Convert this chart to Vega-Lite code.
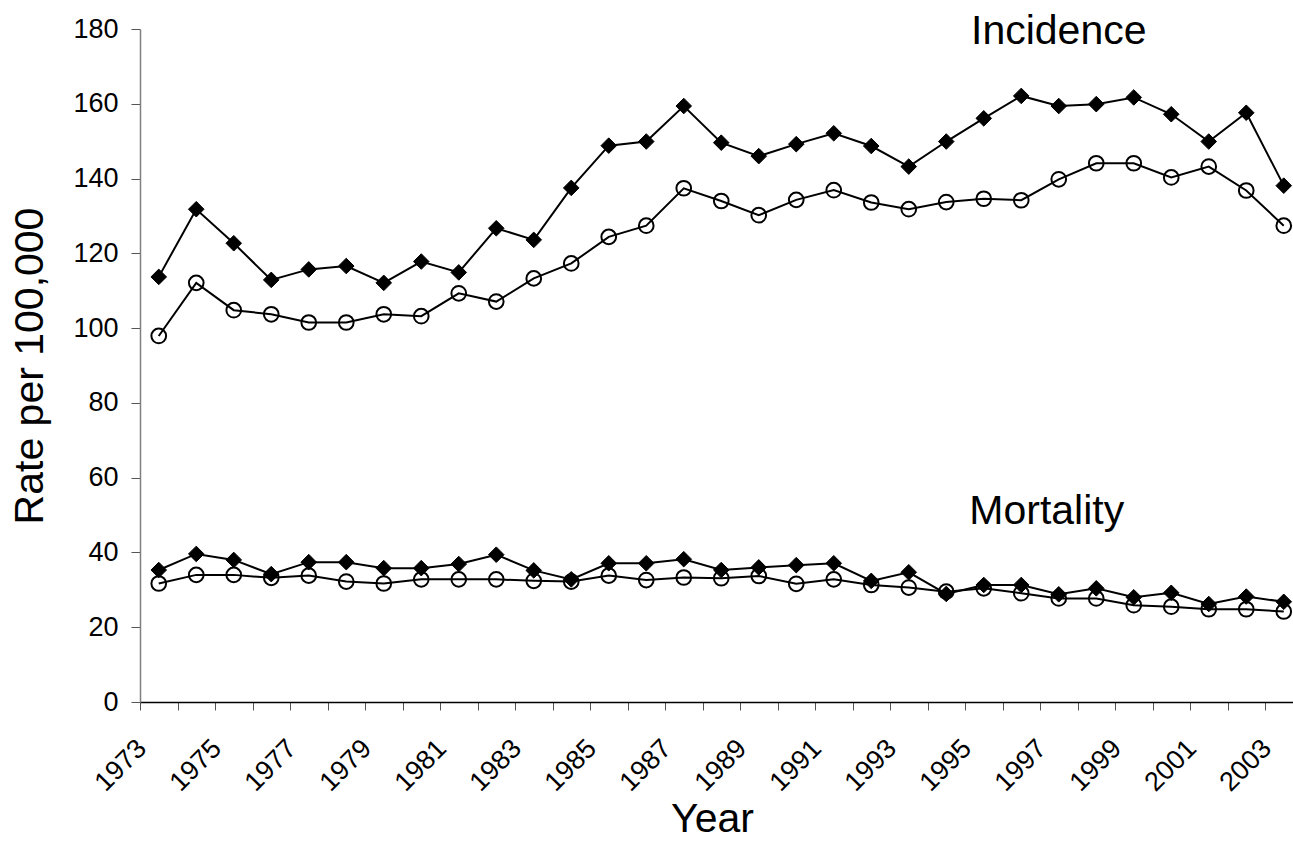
{
  "$schema": "https://vega.github.io/schema/vega-lite/v6.json",
  "width": 1153,
  "height": 673,
  "autosize": {"type": "none"},
  "padding": {"left": 140, "top": 29, "right": 0, "bottom": 144},
  "background": "white",
  "config": {"view": {"stroke": null}, "font": "Liberation Sans", "text": {"font": "Liberation Sans"}},
  "datasets": {
    "rates": [
      {"Year":1973,"Measure":"Incidence","Series":"A","Rate":113.7},{"Year":1974,"Measure":"Incidence","Series":"A","Rate":131.8},{"Year":1975,"Measure":"Incidence","Series":"A","Rate":122.7},{"Year":1976,"Measure":"Incidence","Series":"A","Rate":112.9},{"Year":1977,"Measure":"Incidence","Series":"A","Rate":115.7},{"Year":1978,"Measure":"Incidence","Series":"A","Rate":116.6},{"Year":1979,"Measure":"Incidence","Series":"A","Rate":112.1},{"Year":1980,"Measure":"Incidence","Series":"A","Rate":117.8},{"Year":1981,"Measure":"Incidence","Series":"A","Rate":114.9},{"Year":1982,"Measure":"Incidence","Series":"A","Rate":126.7},{"Year":1983,"Measure":"Incidence","Series":"A","Rate":123.6},{"Year":1984,"Measure":"Incidence","Series":"A","Rate":137.5},{"Year":1985,"Measure":"Incidence","Series":"A","Rate":148.8},{"Year":1986,"Measure":"Incidence","Series":"A","Rate":149.9},{"Year":1987,"Measure":"Incidence","Series":"A","Rate":159.4},{"Year":1988,"Measure":"Incidence","Series":"A","Rate":149.6},{"Year":1989,"Measure":"Incidence","Series":"A","Rate":146.0},{"Year":1990,"Measure":"Incidence","Series":"A","Rate":149.2},{"Year":1991,"Measure":"Incidence","Series":"A","Rate":152.1},{"Year":1992,"Measure":"Incidence","Series":"A","Rate":148.7},{"Year":1993,"Measure":"Incidence","Series":"A","Rate":143.2},{"Year":1994,"Measure":"Incidence","Series":"A","Rate":149.9},{"Year":1995,"Measure":"Incidence","Series":"A","Rate":156.1},{"Year":1996,"Measure":"Incidence","Series":"A","Rate":162.1},{"Year":1997,"Measure":"Incidence","Series":"A","Rate":159.4},{"Year":1998,"Measure":"Incidence","Series":"A","Rate":159.9},{"Year":1999,"Measure":"Incidence","Series":"A","Rate":161.7},{"Year":2000,"Measure":"Incidence","Series":"A","Rate":157.2},{"Year":2001,"Measure":"Incidence","Series":"A","Rate":149.9},{"Year":2002,"Measure":"Incidence","Series":"A","Rate":157.6},{"Year":2003,"Measure":"Incidence","Series":"A","Rate":138.1},
      {"Year":1973,"Measure":"Incidence","Series":"B","Rate":97.9},{"Year":1974,"Measure":"Incidence","Series":"B","Rate":112.1},{"Year":1975,"Measure":"Incidence","Series":"B","Rate":104.8},{"Year":1976,"Measure":"Incidence","Series":"B","Rate":103.7},{"Year":1977,"Measure":"Incidence","Series":"B","Rate":101.5},{"Year":1978,"Measure":"Incidence","Series":"B","Rate":101.5},{"Year":1979,"Measure":"Incidence","Series":"B","Rate":103.7},{"Year":1980,"Measure":"Incidence","Series":"B","Rate":103.2},{"Year":1981,"Measure":"Incidence","Series":"B","Rate":109.3},{"Year":1982,"Measure":"Incidence","Series":"B","Rate":107.1},{"Year":1983,"Measure":"Incidence","Series":"B","Rate":113.3},{"Year":1984,"Measure":"Incidence","Series":"B","Rate":117.3},{"Year":1985,"Measure":"Incidence","Series":"B","Rate":124.4},{"Year":1986,"Measure":"Incidence","Series":"B","Rate":127.4},{"Year":1987,"Measure":"Incidence","Series":"B","Rate":137.4},{"Year":1988,"Measure":"Incidence","Series":"B","Rate":134.0},{"Year":1989,"Measure":"Incidence","Series":"B","Rate":130.2},{"Year":1990,"Measure":"Incidence","Series":"B","Rate":134.3},{"Year":1991,"Measure":"Incidence","Series":"B","Rate":136.9},{"Year":1992,"Measure":"Incidence","Series":"B","Rate":133.6},{"Year":1993,"Measure":"Incidence","Series":"B","Rate":131.8},{"Year":1994,"Measure":"Incidence","Series":"B","Rate":133.7},{"Year":1995,"Measure":"Incidence","Series":"B","Rate":134.6},{"Year":1996,"Measure":"Incidence","Series":"B","Rate":134.2},{"Year":1997,"Measure":"Incidence","Series":"B","Rate":139.8},{"Year":1998,"Measure":"Incidence","Series":"B","Rate":144.1},{"Year":1999,"Measure":"Incidence","Series":"B","Rate":144.1},{"Year":2000,"Measure":"Incidence","Series":"B","Rate":140.3},{"Year":2001,"Measure":"Incidence","Series":"B","Rate":143.2},{"Year":2002,"Measure":"Incidence","Series":"B","Rate":136.8},{"Year":2003,"Measure":"Incidence","Series":"B","Rate":127.4},
      {"Year":1973,"Measure":"Mortality","Series":"A","Rate":35.3},{"Year":1974,"Measure":"Mortality","Series":"A","Rate":39.6},{"Year":1975,"Measure":"Mortality","Series":"A","Rate":38.0},{"Year":1976,"Measure":"Mortality","Series":"A","Rate":34.2},{"Year":1977,"Measure":"Mortality","Series":"A","Rate":37.4},{"Year":1978,"Measure":"Mortality","Series":"A","Rate":37.4},{"Year":1979,"Measure":"Mortality","Series":"A","Rate":35.8},{"Year":1980,"Measure":"Mortality","Series":"A","Rate":35.8},{"Year":1981,"Measure":"Mortality","Series":"A","Rate":36.9},{"Year":1982,"Measure":"Mortality","Series":"A","Rate":39.4},{"Year":1983,"Measure":"Mortality","Series":"A","Rate":35.2},{"Year":1984,"Measure":"Mortality","Series":"A","Rate":32.8},{"Year":1985,"Measure":"Mortality","Series":"A","Rate":37.1},{"Year":1986,"Measure":"Mortality","Series":"A","Rate":37.1},{"Year":1987,"Measure":"Mortality","Series":"A","Rate":38.2},{"Year":1988,"Measure":"Mortality","Series":"A","Rate":35.3},{"Year":1989,"Measure":"Mortality","Series":"A","Rate":36.0},{"Year":1990,"Measure":"Mortality","Series":"A","Rate":36.6},{"Year":1991,"Measure":"Mortality","Series":"A","Rate":37.1},{"Year":1992,"Measure":"Mortality","Series":"A","Rate":32.4},{"Year":1993,"Measure":"Mortality","Series":"A","Rate":34.7},{"Year":1994,"Measure":"Mortality","Series":"A","Rate":28.9},{"Year":1995,"Measure":"Mortality","Series":"A","Rate":31.3},{"Year":1996,"Measure":"Mortality","Series":"A","Rate":31.3},{"Year":1997,"Measure":"Mortality","Series":"A","Rate":28.8},{"Year":1998,"Measure":"Mortality","Series":"A","Rate":30.4},{"Year":1999,"Measure":"Mortality","Series":"A","Rate":28.0},{"Year":2000,"Measure":"Mortality","Series":"A","Rate":29.2},{"Year":2001,"Measure":"Mortality","Series":"A","Rate":26.2},{"Year":2002,"Measure":"Mortality","Series":"A","Rate":28.2},{"Year":2003,"Measure":"Mortality","Series":"A","Rate":26.8},
      {"Year":1973,"Measure":"Mortality","Series":"B","Rate":31.7},{"Year":1974,"Measure":"Mortality","Series":"B","Rate":34.0},{"Year":1975,"Measure":"Mortality","Series":"B","Rate":34.0},{"Year":1976,"Measure":"Mortality","Series":"B","Rate":33.2},{"Year":1977,"Measure":"Mortality","Series":"B","Rate":33.8},{"Year":1978,"Measure":"Mortality","Series":"B","Rate":32.2},{"Year":1979,"Measure":"Mortality","Series":"B","Rate":31.7},{"Year":1980,"Measure":"Mortality","Series":"B","Rate":32.8},{"Year":1981,"Measure":"Mortality","Series":"B","Rate":32.8},{"Year":1982,"Measure":"Mortality","Series":"B","Rate":32.8},{"Year":1983,"Measure":"Mortality","Series":"B","Rate":32.4},{"Year":1984,"Measure":"Mortality","Series":"B","Rate":32.2},{"Year":1985,"Measure":"Mortality","Series":"B","Rate":33.8},{"Year":1986,"Measure":"Mortality","Series":"B","Rate":32.6},{"Year":1987,"Measure":"Mortality","Series":"B","Rate":33.3},{"Year":1988,"Measure":"Mortality","Series":"B","Rate":33.1},{"Year":1989,"Measure":"Mortality","Series":"B","Rate":33.7},{"Year":1990,"Measure":"Mortality","Series":"B","Rate":31.6},{"Year":1991,"Measure":"Mortality","Series":"B","Rate":32.8},{"Year":1992,"Measure":"Mortality","Series":"B","Rate":31.3},{"Year":1993,"Measure":"Mortality","Series":"B","Rate":30.6},{"Year":1994,"Measure":"Mortality","Series":"B","Rate":29.5},{"Year":1995,"Measure":"Mortality","Series":"B","Rate":30.4},{"Year":1996,"Measure":"Mortality","Series":"B","Rate":29.1},{"Year":1997,"Measure":"Mortality","Series":"B","Rate":27.7},{"Year":1998,"Measure":"Mortality","Series":"B","Rate":27.7},{"Year":1999,"Measure":"Mortality","Series":"B","Rate":25.9},{"Year":2000,"Measure":"Mortality","Series":"B","Rate":25.5},{"Year":2001,"Measure":"Mortality","Series":"B","Rate":24.8},{"Year":2002,"Measure":"Mortality","Series":"B","Rate":24.8},{"Year":2003,"Measure":"Mortality","Series":"B","Rate":24.2}
    ]
  },
  "encoding": {
    "x": {
      "field": "Year", "type": "ordinal", "bandPosition": 0.5,
      "scale": {"type": "band", "paddingInner": 0, "paddingOuter": 0, "range": [0, 1162.5]},
      "axis": {
        "title": "Year", "titleFontSize": 41, "titleFontWeight": "normal", "titleColor": "black", "titlePadding": 4, "titleX": 572,
        "labelFontSize": 27, "labelColor": "black", "labelAngle": -45, "labelAlign": "right", "labelBaseline": "middle",
        "labelPadding": 34, "labelOffset": -17, "labelOverlap": false, "labelBound": false, "labelFlush": false,
        "labelExpr": "datum.value % 2 == 1 ? datum.label : ''",
        "tickBand": "extent", "tickSize": 8, "tickColor": "#555555", "tickWidth": 1,
        "domainColor": "black", "domainWidth": 1.5, "grid": false
      }
    },
    "y": {
      "field": "Rate", "type": "quantitative",
      "scale": {"domain": [0, 180], "nice": false, "zero": true},
      "axis": {
        "title": "Rate per 100,000", "titleFontSize": 41, "titleFontWeight": "normal", "titleColor": "black", "titlePadding": 21,
        "values": [0, 20, 40, 60, 80, 100, 120, 140, 160, 180],
        "labelFontSize": 27, "labelColor": "black", "labelPadding": 13,
        "tickSize": 9, "tickColor": "#555555", "tickWidth": 1,
        "domainColor": "#7f7f7f", "domainWidth": 1.5, "grid": false
      }
    }
  },
  "layer": [
    {
      "data": {"name": "rates"},
      "mark": {"type": "line", "color": "black", "strokeWidth": 2},
      "encoding": {"detail": [{"field": "Measure"}, {"field": "Series"}]}
    },
    {
      "data": {"name": "rates"},
      "mark": {"type": "point", "filled": true, "stroke": "black", "opacity": 1},
      "encoding": {
        "shape": {"field": "Series", "type": "nominal", "scale": {"domain": ["A", "B"], "range": ["diamond", "circle"]}, "legend": null},
        "fill": {"field": "Series", "type": "nominal", "scale": {"domain": ["A", "B"], "range": ["black", "transparent"]}, "legend": null},
        "size": {"field": "Series", "type": "nominal", "scale": {"domain": ["A", "B"], "range": [243, 216]}, "legend": null},
        "strokeWidth": {"field": "Series", "type": "nominal", "scale": {"domain": ["A", "B"], "range": [1, 2]}, "legend": null}
      }
    },
    {
      "data": {"values": [{"Year": 1997, "Rate": 176, "Label": "Incidence"}]},
      "mark": {"type": "text", "fontSize": 41, "align": "center", "baseline": "alphabetic", "color": "black"},
      "encoding": {"text": {"field": "Label"}}
    },
    {
      "data": {"values": [{"Year": 1997, "Rate": 47.6, "Label": "Mortality"}]},
      "mark": {"type": "text", "fontSize": 41, "align": "center", "baseline": "alphabetic", "color": "black", "dx": -12},
      "encoding": {"text": {"field": "Label"}}
    }
  ]
}
